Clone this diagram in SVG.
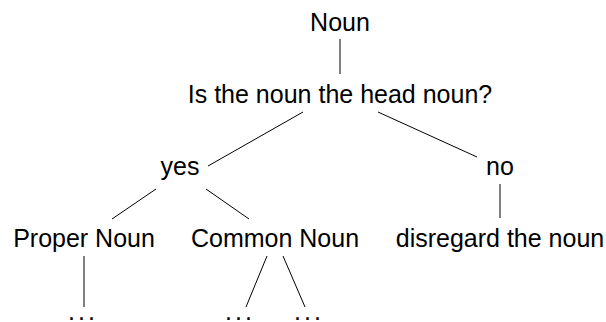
<svg xmlns="http://www.w3.org/2000/svg" width="606" height="322" viewBox="0 0 606 322">
  <style>
    .lbl { font-family: "Liberation Sans", Arial, Helvetica, sans-serif; font-size: 25px; fill: #000; text-anchor: middle; }
    .dots { font-family: "Liberation Sans", Arial, Helvetica, sans-serif; font-size: 25px; fill: #000; letter-spacing: 3px; }
    .edge { stroke: #000; stroke-width: 1; fill: none; }
  </style>
  <rect width="606" height="322" fill="#fff"/>

  <!-- tree edges -->
  <g id="edges">
    <line class="edge" x1="340" y1="39" x2="340" y2="74"/>
    <line class="edge" x1="303" y1="112" x2="208" y2="166"/>
    <line class="edge" x1="378" y1="112" x2="477" y2="157"/>
    <line class="edge" x1="500" y1="184" x2="500" y2="218"/>
    <line class="edge" x1="156" y1="189" x2="112" y2="219"/>
    <line class="edge" x1="206" y1="189" x2="249" y2="219"/>
    <line class="edge" x1="84" y1="256" x2="84" y2="307"/>
    <line class="edge" x1="267" y1="256" x2="246" y2="307"/>
    <line class="edge" x1="283" y1="256" x2="305" y2="307"/>
  </g>

  <!-- tree nodes -->
  <g id="root"><text class="lbl" x="340" y="31">Noun</text></g>
  <g id="question"><text class="lbl" x="340" y="103">Is the noun the head noun?</text></g>
  <g id="yes"><text class="lbl" x="180" y="175">yes</text></g>
  <g id="no"><text class="lbl" x="500" y="175">no</text></g>
  <g id="proper"><text class="lbl" x="84" y="247">Proper Noun</text></g>
  <g id="common"><text class="lbl" x="275" y="247">Common Noun</text></g>
  <g id="disregard"><text class="lbl" x="500" y="247">disregard the noun</text></g>
  <g id="proper-more"><text class="dots" x="68" y="320">...</text></g>
  <g id="common-more-1"><text class="dots" x="225" y="320">...</text></g>
  <g id="common-more-2"><text class="dots" x="294" y="320">...</text></g>
</svg>
